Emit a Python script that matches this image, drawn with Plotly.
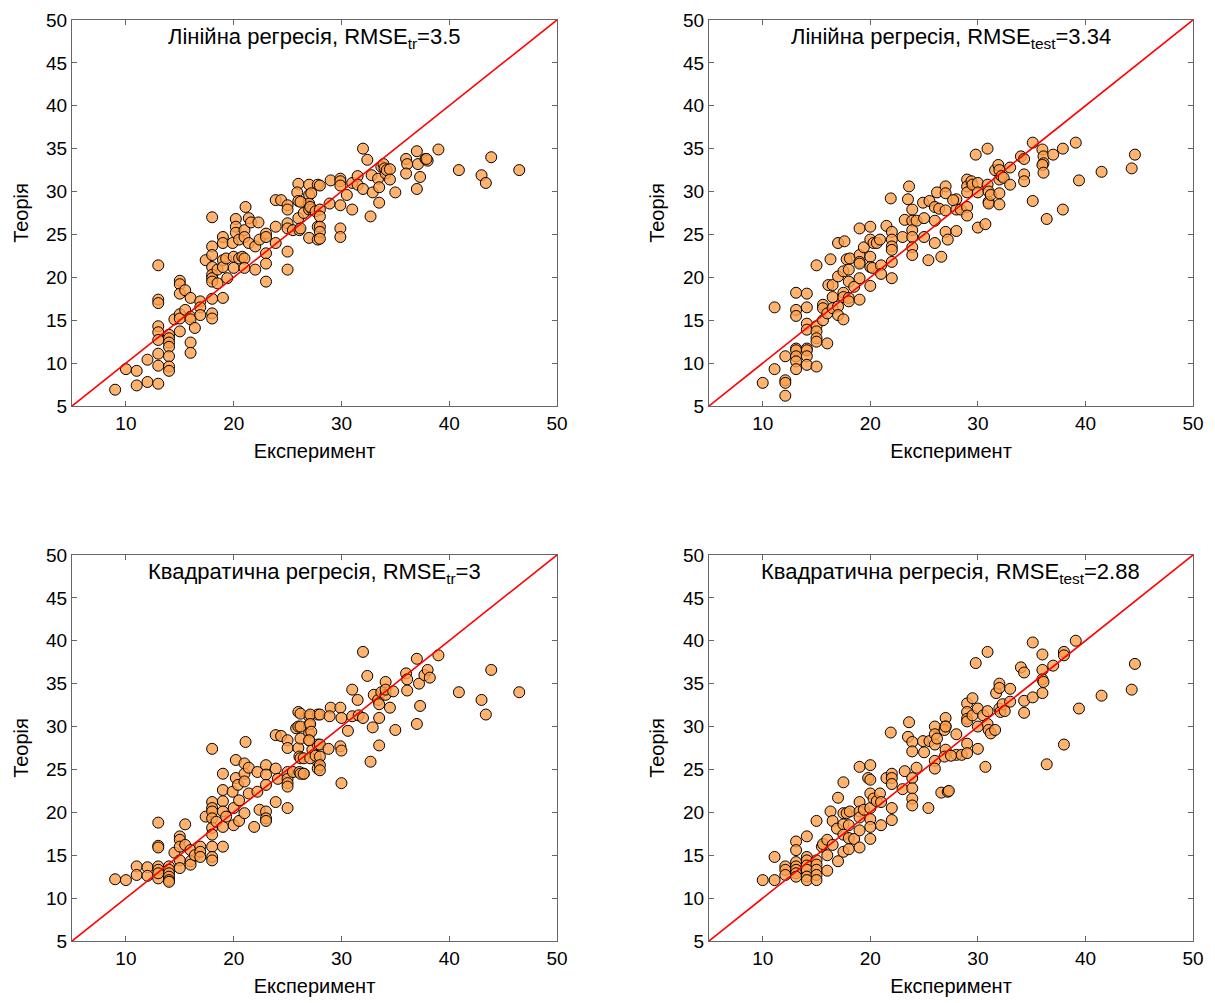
import plotly.graph_objects as go

# Training set, linear model
lin_tr_exp = [9.0, 10.0, 11.0, 11.0, 12.0, 12.0, 13.0, 13.0, 13.0, 13.0, 13.0, 13.0, 13.0, 13.0, 13.0,
              14.0, 14.0, 14.0, 14.0, 14.0, 14.0, 14.0, 14.5, 15.0, 15.0, 15.0, 15.0, 15.0, 15.0, 15.5,
              15.5, 16.0, 16.0, 16.0, 16.0, 16.0, 16.4, 16.9, 16.9, 16.9, 17.4, 18.0, 18.0, 18.0, 18.0,
              18.0, 18.0, 18.0, 18.0, 18.0, 18.0, 18.5, 18.5, 19.0, 19.0, 19.0, 19.0, 19.0, 19.3, 19.4,
              19.9, 20.0, 20.0, 20.2, 20.2, 20.2, 20.5, 20.5, 20.8, 21.0, 21.0, 21.0, 21.0, 21.1, 21.4,
              21.4, 21.6, 22.0, 22.0, 22.3, 22.4, 23.0, 23.0, 23.0, 23.0, 23.0, 23.9, 24.4, 23.9, 23.9,
              25.0, 25.0, 25.0, 25.0, 25.0, 25.0, 25.5, 26.0, 25.9, 26.0, 26.0, 26.1, 26.5, 27.0, 27.0,
              27.0, 27.0, 27.0, 27.3, 27.8, 27.8, 27.8, 26.2, 26.2, 27.2, 27.1, 27.6, 28.0, 28.0, 28.0,
              28.0, 28.0, 28.0, 28.9, 29.0, 29.9, 29.9, 29.9, 29.9, 29.9, 29.9, 30.5, 31.0, 31.0, 31.5,
              31.5, 32.0, 32.0, 32.4, 32.7, 32.8, 32.9, 33.4, 33.5, 33.5, 33.7, 33.9, 34.0, 34.1, 34.2,
              34.5, 34.5, 35.0, 36.0, 36.1, 36.0, 37.0, 37.1, 37.3, 37.0, 37.8, 38.0, 37.9, 39.0, 40.9,
              43.0, 43.4, 43.9, 46.5]
lin_tr_th = [6.9, 9.3, 9.1, 7.4, 7.8, 10.4, 21.4, 17.4, 17.0, 14.3, 13.6, 12.7, 11.1, 9.7, 7.6,
             13.3, 12.9, 12.4, 11.9, 10.8, 9.6, 9.1, 15.1, 19.6, 19.2, 18.1, 15.7, 15.2, 13.7, 18.5,
             16.2, 17.6, 15.4, 15.1, 12.4, 11.2, 14.1, 17.2, 16.5, 15.6, 22.0, 27.0, 23.6, 22.6, 21.2,
             20.3, 19.9, 19.5, 17.5, 15.8, 15.2, 20.9, 19.3, 24.7, 24.0, 22.0, 21.2, 17.6, 22.2, 19.9,
             24.0, 22.4, 21.1, 26.8, 25.9, 25.2, 24.4, 22.2, 22.4, 25.5, 24.7, 22.2, 21.1, 28.2, 26.9,
             24.0, 26.4, 20.9, 23.6, 26.4, 24.4, 25.1, 24.7, 22.8, 21.6, 19.5, 29.0, 29.0, 25.9, 24.0,
             28.4, 27.9, 26.3, 25.7, 23.0, 20.9, 25.5, 30.9, 29.9, 28.9, 26.9, 25.5, 27.5, 30.8, 29.6,
             28.6, 27.9, 24.6, 27.9, 30.8, 25.9, 24.4, 28.8, 25.7, 29.8, 28.2, 27.7, 30.7, 27.9, 27.1,
             25.9, 25.3, 24.5, 28.6, 31.3, 31.5, 31.2, 30.7, 28.4, 25.7, 24.7, 29.6, 31.0, 27.9, 31.8,
             30.8, 30.3, 35.0, 33.7, 27.1, 31.9, 29.9, 31.5, 30.5, 28.7, 32.9, 33.2, 32.7, 32.1, 32.5,
             32.6, 31.4, 29.9, 33.8, 33.2, 32.1, 34.7, 33.2, 31.7, 30.3, 33.8, 33.6, 33.8, 34.9, 32.5,
             31.9, 31.0, 34.0, 32.5]

# Test set, linear model
lin_te_exp = [10.0, 11.1, 11.1, 12.1, 12.1, 12.1, 12.1, 13.1, 13.1, 13.1, 13.1, 13.1, 13.1, 13.1, 13.1,
              14.1, 14.1, 14.1, 14.1, 14.1, 14.1, 14.1, 14.1, 15.0, 15.0, 15.0, 15.0, 15.0, 15.0, 15.6,
              15.6, 15.6, 16.0, 16.0, 16.3, 16.1, 16.5, 16.5, 16.5, 17.0, 17.0, 17.0, 17.0, 17.5, 17.5,
              17.5, 17.5, 17.6, 17.8, 18.0, 18.0, 18.0, 18.0, 18.1, 18.5, 19.0, 19.0, 19.0, 19.0, 19.0,
              19.0, 19.4, 20.0, 20.0, 20.0, 20.0, 20.0, 20.2, 20.3, 20.6, 20.9, 21.0, 21.0, 21.5, 21.9,
              22.0, 22.0, 22.0, 22.0, 22.0, 22.0, 23.0, 23.2, 23.6, 23.5, 23.9, 23.9, 23.9, 23.9, 23.9,
              23.9, 24.3, 24.9, 25.0, 25.0, 25.4, 25.5, 26.0, 26.0, 26.0, 26.2, 26.4, 26.6, 27.0, 27.0,
              27.0, 27.0, 27.2, 28.0, 28.0, 28.0, 27.7, 28.4, 29.0, 29.0, 29.0, 29.0, 29.0, 29.4, 29.5,
              29.8, 30.0, 30.0, 30.0, 30.7, 30.9, 30.9, 31.0, 31.0, 31.0, 31.2, 31.6, 31.9, 32.0, 32.0,
              32.0, 32.0, 32.2, 32.4, 33.0, 33.0, 34.0, 34.3, 34.3, 34.3, 35.1, 35.1, 36.0, 36.1, 36.1,
              36.0, 36.1, 36.4, 37.0, 37.9, 37.9, 39.1, 39.4, 41.5, 44.3, 44.6]
lin_te_th = [7.7, 9.3, 16.5, 10.8, 8.0, 7.7, 6.2, 18.2, 16.2, 15.5, 11.7, 11.5, 10.8, 10.2, 9.3,
             18.1, 16.5, 14.6, 13.9, 11.7, 11.5, 10.8, 9.8, 21.4, 14.3, 13.7, 12.9, 12.5, 9.6, 16.8,
             16.4, 15.0, 15.8, 12.3, 22.1, 19.1, 19.1, 17.7, 16.4, 20.1, 24.0, 16.6, 15.6, 20.7, 18.2,
             17.7, 15.1, 24.2, 22.1, 20.9, 19.5, 17.6, 17.2, 22.2, 18.9, 25.7, 22.6, 21.8, 21.6, 19.9,
             17.4, 23.5, 25.9, 24.4, 22.4, 21.2, 19.0, 21.1, 24.0, 24.0, 24.4, 21.4, 20.4, 26.0, 29.2,
             25.3, 24.4, 23.6, 23.2, 21.8, 19.9, 24.7, 26.7, 30.6, 29.1, 27.9, 26.6, 25.5, 24.7, 23.5,
             22.6, 26.6, 28.7, 26.9, 24.7, 22.0, 28.9, 28.2, 26.6, 24.0, 29.9, 28.0, 22.4, 30.6, 29.8,
             27.8, 25.3, 24.4, 29.1, 27.9, 25.4, 29.0, 27.9, 31.4, 30.6, 29.9, 28.2, 27.2, 31.2, 30.8,
             34.3, 31.0, 29.9, 25.8, 26.2, 35.0, 30.8, 30.0, 28.8, 28.6, 29.6, 32.5, 33.1, 32.5, 31.4,
             29.8, 28.5, 31.8, 31.6, 32.8, 30.8, 34.1, 33.8, 32.0, 31.2, 28.9, 35.7, 34.9, 34.1, 33.3,
             33.1, 32.2, 26.8, 34.3, 35.0, 27.9, 35.7, 31.3, 32.3, 32.7, 34.3]

# Training set, quadratic model
quad_tr_exp = [9.0, 10.0, 11.0, 11.0, 12.0, 12.0, 13.0, 13.0, 13.0, 13.0, 13.0, 13.0, 13.0, 14.0, 14.0,
               14.0, 14.0, 14.0, 14.0, 14.5, 15.0, 15.0, 15.0, 15.0, 15.0, 15.5, 15.5, 16.0, 16.0, 16.0,
               16.4, 16.9, 16.9, 16.9, 17.4, 18.0, 18.0, 18.0, 18.0, 18.0, 18.0, 18.0, 18.0, 18.0, 18.0,
               18.4, 19.0, 19.0, 19.0, 19.0, 19.0, 19.0, 19.3, 19.9, 20.0, 20.0, 20.2, 20.2, 20.4, 20.5,
               20.5, 21.0, 21.0, 21.0, 21.0, 21.1, 21.4, 21.4, 21.9, 22.2, 22.2, 22.4, 23.0, 23.0, 23.0,
               23.0, 23.0, 23.0, 23.9, 23.9, 23.9, 24.4, 24.1, 25.0, 25.0, 25.0, 25.0, 25.0, 25.0, 25.0,
               25.5, 25.8, 26.0, 26.0, 26.0, 26.1, 26.1, 26.5, 27.0, 27.0, 27.0, 27.0, 27.3, 27.8, 27.8,
               27.8, 27.8, 26.2, 26.2, 26.2, 26.2, 26.2, 27.1, 27.1, 27.2, 27.0, 26.5, 26.5, 27.1, 27.6,
               28.0, 28.0, 28.0, 28.0, 28.0, 29.0, 28.9, 28.8, 29.9, 30.0, 29.9, 30.0, 30.0, 30.6, 31.0,
               31.0, 31.5, 31.6, 32.0, 32.0, 32.4, 32.7, 32.9, 33.0, 33.4, 33.5, 33.5, 33.5, 33.7, 34.1,
               34.1, 34.1, 34.5, 34.8, 35.0, 36.0, 36.1, 36.1, 37.0, 37.2, 37.3, 37.0, 37.7, 38.0, 38.2,
               39.0, 40.9, 43.0, 43.4, 43.9, 46.5]
quad_tr_th = [12.2, 12.1, 13.7, 12.7, 13.6, 12.6, 18.8, 16.1, 15.9, 13.7, 13.3, 12.3, 12.9, 13.7, 13.3,
              12.9, 12.5, 12.1, 11.9, 15.3, 17.2, 16.8, 16.0, 14.4, 13.5, 18.6, 16.2, 15.6, 14.3, 13.9,
              15.0, 16.0, 15.4, 14.8, 19.5, 27.4, 21.2, 20.5, 20.1, 19.3, 18.2, 17.4, 16.0, 14.8, 14.4,
              18.9, 24.5, 22.6, 21.3, 20.1, 18.3, 16.0, 19.5, 22.4, 20.5, 18.5, 26.1, 24.0, 23.2, 21.4,
              19.0, 25.7, 24.5, 23.6, 19.9, 28.2, 25.2, 22.2, 18.3, 24.7, 22.4, 20.3, 25.5, 24.4, 23.2,
              20.1, 19.3, 19.0, 29.0, 25.1, 21.2, 28.9, 23.9, 28.4, 27.5, 24.7, 23.9, 23.4, 23.0, 20.5,
              24.7, 29.8, 31.7, 30.0, 27.5, 26.5, 24.7, 24.5, 31.2, 30.2, 29.2, 28.4, 27.3, 31.4, 27.9,
              25.9, 25.1, 31.5, 30.0, 28.6, 26.3, 24.5, 31.4, 30.3, 29.4, 28.4, 26.3, 24.5, 26.3, 26.6,
              31.4, 27.9, 26.5, 25.5, 24.9, 32.2, 31.2, 27.4, 32.2, 31.0, 27.7, 27.2, 23.4, 29.5, 34.3,
              31.2, 33.1, 31.3, 38.7, 31.0, 35.9, 25.9, 29.9, 33.7, 33.1, 32.6, 31.0, 27.8, 34.0, 35.2,
              33.7, 34.3, 32.2, 34.1, 29.6, 36.2, 35.5, 34.2, 37.9, 35.0, 32.4, 30.3, 36.0, 36.6, 35.7,
              38.3, 34.0, 33.1, 31.4, 36.6, 34.0]

# Test set, quadratic model
quad_te_exp = [10.0, 11.1, 11.1, 12.1, 12.1, 12.1, 13.1, 13.1, 13.1, 13.1, 13.1, 13.1, 13.1, 14.1, 14.1,
               14.1, 14.1, 14.1, 14.1, 14.1, 15.0, 15.0, 15.0, 15.0, 15.0, 15.0, 15.5, 15.6, 16.0, 16.0,
               16.0, 16.3, 16.5, 16.5, 16.9, 17.0, 17.0, 17.5, 17.5, 17.5, 17.5, 17.5, 17.8, 18.0, 18.0,
               18.0, 18.1, 18.5, 19.0, 19.0, 19.0, 19.0, 19.0, 19.0, 19.4, 19.8, 20.0, 20.0, 20.0, 20.0,
               20.0, 20.0, 20.0, 20.3, 20.6, 20.9, 21.0, 21.0, 21.5, 21.9, 22.0, 22.0, 22.0, 22.0, 22.0,
               23.0, 23.2, 23.6, 23.5, 23.9, 23.9, 23.9, 23.9, 23.9, 23.9, 24.3, 24.9, 25.0, 25.4, 25.5,
               26.0, 26.0, 26.0, 26.0, 26.0, 26.2, 26.6, 27.0, 27.0, 27.0, 27.2, 28.0, 28.0, 26.9, 26.9,
               27.0, 27.3, 27.5, 28.5, 29.0, 29.0, 29.0, 29.0, 29.0, 29.0, 29.5, 29.5, 29.8, 30.0, 30.0,
               30.0, 30.5, 30.7, 30.9, 30.9, 30.9, 31.0, 31.2, 31.6, 31.7, 32.0, 32.0, 32.0, 32.1, 32.3,
               32.5, 33.0, 33.0, 34.0, 34.3, 34.3, 34.3, 35.1, 35.1, 36.0, 36.0, 36.0, 36.1, 36.0, 36.4,
               37.0, 38.0, 38.0, 38.0, 39.1, 39.4, 41.5, 44.3, 44.6]
quad_te_th = [12.1, 12.1, 14.8, 13.7, 13.3, 12.7, 16.6, 15.6, 14.2, 13.7, 13.3, 12.9, 12.5, 17.2, 14.8,
              14.4, 13.8, 13.3, 12.5, 12.1, 19.0, 14.4, 13.9, 13.3, 12.7, 12.1, 16.0, 16.3, 15.0, 16.8,
              13.2, 20.1, 19.0, 16.2, 18.1, 21.7, 14.3, 23.5, 19.9, 18.6, 17.4, 15.4, 19.9, 18.5, 17.0,
              15.7, 20.1, 16.9, 25.3, 21.2, 20.1, 19.4, 17.9, 15.9, 20.3, 24.0, 25.5, 23.8, 22.2, 20.5,
              19.2, 18.3, 16.9, 21.6, 21.3, 22.2, 21.2, 18.5, 24.0, 29.3, 24.5, 24.0, 23.3, 20.5, 19.1,
              22.7, 24.8, 30.5, 28.8, 28.2, 27.1, 24.0, 22.8, 21.6, 20.8, 25.2, 28.3, 27.0, 20.5, 28.3,
              30.0, 29.1, 27.9, 26.0, 25.1, 28.6, 22.3, 31.0, 30.0, 27.3, 22.4, 29.1, 26.7, 29.6, 26.5,
              30.0, 22.5, 26.6, 26.7, 32.7, 31.7, 30.9, 30.6, 28.0, 26.9, 33.3, 31.3, 37.4, 32.1, 30.0,
              27.4, 31.3, 25.3, 38.7, 31.8, 30.3, 29.6, 29.2, 29.6, 33.9, 35.0, 34.5, 32.1, 31.7, 32.6,
              31.8, 34.4, 32.9, 36.9, 36.3, 33.0, 31.6, 33.4, 39.8, 38.4, 36.6, 35.5, 35.2, 33.9, 25.6,
              37.1, 38.7, 38.3, 27.9, 40.0, 32.1, 33.6, 34.3, 37.3]

panels = [
    ("Лінійна регресія, RMSE<sub>tr</sub>=3.5", lin_tr_exp, lin_tr_th),
    ("Лінійна регресія, RMSE<sub>test</sub>=3.34", lin_te_exp, lin_te_th),
    ("Квадратична регресія, RMSE<sub>tr</sub>=3", quad_tr_exp, quad_tr_th),
    ("Квадратична регресія, RMSE<sub>test</sub>=2.88", quad_te_exp, quad_te_th),
]

axis_range = [5, 50]
x_ticks = [10, 20, 30, 40, 50]
y_ticks = [5, 10, 15, 20, 25, 30, 35, 40, 45, 50]

x_domains = [[0.0593, 0.4584], [0.5835, 0.9819]]
y_domains = [[0.5952, 0.9801], [0.0618, 0.4467]]

FONT = "Liberation Sans, Arial, sans-serif"

fig = go.Figure()
layout = dict(
    width=1215, height=1003,
    margin=dict(l=0, r=0, t=0, b=0),
    paper_bgcolor="white", plot_bgcolor="white",
    showlegend=False,
    font=dict(family=FONT, size=19, color="black"),
    annotations=[],
)

for i, (title, xs, ys) in enumerate(panels):
    row, col = divmod(i, 2)
    n = "" if i == 0 else str(i + 1)
    xa, ya = "x" + n, "y" + n

    fig.add_trace(go.Scatter(
        x=xs, y=ys, mode="markers", xaxis=xa, yaxis=ya,
        marker=dict(size=11, color="rgba(255,160,75,0.8)",
                    line=dict(color="black", width=1)),
        hoverinfo="x+y",
    ))
    # Reference line y = x
    fig.add_trace(go.Scatter(
        x=axis_range, y=axis_range, mode="lines", xaxis=xa, yaxis=ya,
        line=dict(color="red", width=1.6), hoverinfo="skip",
    ))

    common = dict(range=axis_range, showgrid=False, zeroline=False, automargin=False,
                  showline=True, linecolor="#666666", linewidth=1.2,
                  mirror="ticks", ticks="inside", ticklen=5, tickcolor="#666666",
                  tickfont=dict(family=FONT, size=19, color="black"))
    layout["xaxis" + n] = dict(common, domain=x_domains[col], anchor=ya,
                               tickvals=x_ticks,
                               title=dict(text="Експеримент", standoff=11,
                                          font=dict(family=FONT, size=20)))
    layout["yaxis" + n] = dict(common, domain=y_domains[row], anchor=xa,
                               tickvals=y_ticks,
                               title=dict(text="Теорія", standoff=12,
                                          font=dict(family=FONT, size=20)))
    layout["annotations"].append(dict(
        text=title, xref=xa + " domain", yref=ya + " domain",
        x=0.5, y=0.995, xanchor="center", yanchor="top", showarrow=False,
        font=dict(family=FONT, size=22, color="black"),
    ))

fig.update_layout(**layout)
fig.write_html("out.html")
